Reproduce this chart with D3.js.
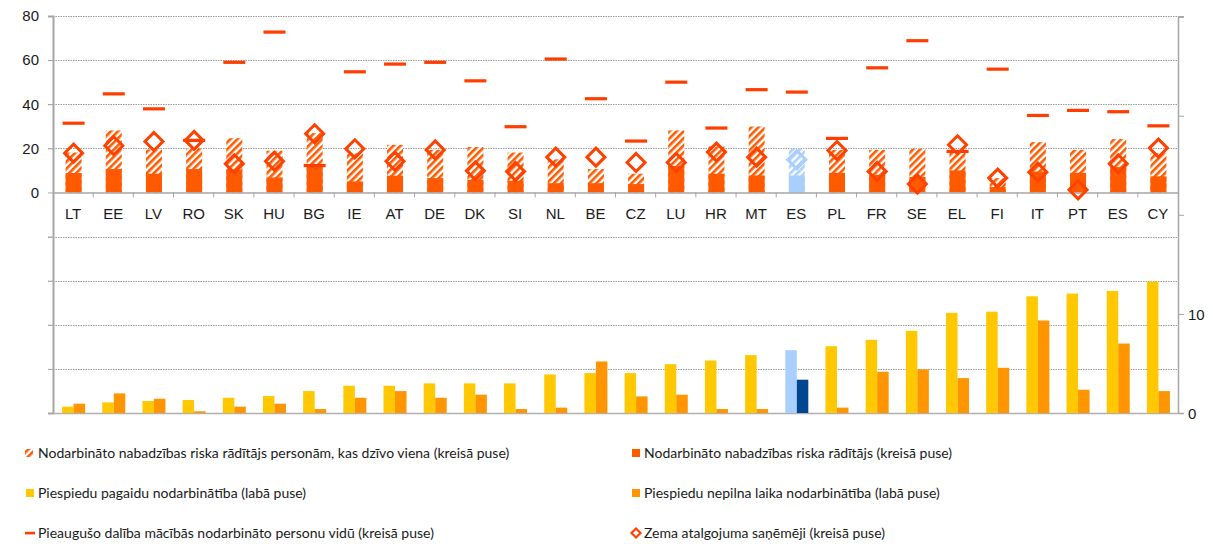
<!DOCTYPE html>
<html>
<head>
<meta charset="utf-8">
<script src="https://cdn.jsdelivr.net/npm/d3@7"></script>
<style>
html,body{margin:0;padding:0;background:#fff;}
svg{display:block;font-family:Lato,"Open Sans",sans-serif;}
</style>
</head>
<body>
<svg id="chart" width="1213" height="544"></svg>
<script>
const countries = ["LT","EE","LV","RO","SK","HU","BG","IE","AT","DE","DK","SI","NL","BE","CZ","LU","HR","MT","ES","PL","FR","SE","EL","FI","IT","PT","ES","CY"];
const highlightIndex = 18;
const inWorkPoverty = [8.8,10.6,8.5,10.6,10.3,6.8,12.5,5.0,7.6,6.5,5.7,5.3,4.2,4.2,3.8,12.0,8.5,7.7,7.7,8.9,8.0,7.0,10.0,2.4,9.5,8.9,11.5,7.3];
const livingAlone = [18.1,28.1,19.5,20.0,24.6,18.9,26.9,17.8,21.6,19.3,20.6,18.1,15.0,10.6,8.5,28.1,20.9,29.9,19.8,19.3,19.3,19.8,18.0,6.5,22.8,19.3,24.2,17.8];
const adultLearning = [31.4,44.7,37.9,23.6,59.0,72.7,12.2,54.7,58.2,59.0,50.6,29.8,60.5,42.5,23.3,50.0,29.2,46.6,45.5,24.5,56.5,68.8,18.6,55.9,34.9,37.2,36.6,30.2];
const lowWage = [17.8,21.2,23.1,23.6,13.0,14.1,26.6,19.8,14.1,19.3,9.8,9.5,16.0,16.0,13.6,13.6,18.3,16.0,14.8,19.0,9.5,3.8,21.6,6.5,9.2,1.2,13.0,20.1];
const involuntaryTemp = [0.64,1.07,1.21,1.31,1.54,1.71,2.21,2.75,2.75,2.99,2.99,2.99,3.89,4.03,4.03,4.93,5.30,5.84,6.34,6.74,7.38,8.29,10.10,10.23,11.78,12.05,12.32,13.26];
const involuntaryPart = [0.94,1.98,1.44,0.17,0.64,0.94,0.40,1.54,2.21,1.54,1.85,0.40,0.54,5.20,1.68,1.85,0.40,0.40,3.36,0.54,4.16,4.40,3.52,4.56,9.33,2.35,7.01,2.21];
const leftTicks = [-100,-80,-60,-40,-20,0,20,40,60,80];
const leftTickLabels = [0,20,40,60,80];
const rightTicks = [0,10,20,30,40];
const rightTickLabels = [0,10];
const legendLabels = [
  "Nodarbināto nabadzības riska rādītājs personām, kas dzīvo viena (kreisā puse)",
  "Nodarbināto nabadzības riska rādītājs (kreisā puse)",
  "Piespiedu pagaidu nodarbinātība (labā puse)",
  "Piespiedu nepilna laika nodarbinātība (labā puse)",
  "Pieaugušo dalība mācībās nodarbināto personu vidū (kreisā puse)",
  "Zema atalgojuma saņēmēji (kreisā puse)"
];

const C = {
  solid: "#FF5A00", line: "#FF3D00", diamond: "#FF4100",
  yellow: "#FFC800", orange: "#FF9500",
  lightBlue: "#A9CFFF", darkBlue: "#00458F",
  grid: "#9a9a9a", axis: "#a6a6a6", text: "#1a1a1a"
};

const svg = d3.select("#chart");
const X0 = 53, X1 = 1178, YTOP = 16, YBOT = 413;
const idx = countries.map((d,i)=>i);
const x = d3.scaleBand().domain(idx).range([X0, X1]).padding(0);
const yL = d3.scaleLinear().domain([-100, 80]).range([YBOT, YTOP]);
const yR = d3.scaleLinear().domain([0, 40]).range([YBOT, YTOP + 0.6]);

const defs = svg.append("defs");
function hatch(id, color){
  const p = defs.append("pattern").attr("id", id).attr("patternUnits","userSpaceOnUse")
    .attr("width", 5).attr("height", 5).attr("patternTransform","rotate(45)");
  p.append("rect").attr("width",5).attr("height",5).attr("fill","#fff");
  p.append("rect").attr("width",2.6).attr("height",5).attr("fill",color);
}
hatch("hatchO", C.solid);
hatch("hatchB", C.lightBlue);

// gridlines
svg.append("g").selectAll("line").data(leftTicks.filter(t=>t!==0)).join("line")
  .attr("x1", X0-5).attr("x2", X1).attr("y1", d=>Math.round(yL(d))+0.5).attr("y2", d=>Math.round(yL(d))+0.5)
  .attr("stroke", C.grid).attr("stroke-width", 1).attr("stroke-dasharray","1.5,1");
// top gridline extends to right tick
svg.append("line").attr("x1", X1).attr("x2", X1+6).attr("y1", Math.round(yL(80))+0.5).attr("y2", Math.round(yL(80))+0.5)
  .attr("stroke", C.axis);

// left axis
const gL = svg.append("g").attr("transform", `translate(${X0},0)`)
  .call(d3.axisLeft(yL).tickValues(leftTicks).tickSize(5).tickFormat(d=>leftTickLabels.includes(d)?d:""));
gL.select(".domain").attr("stroke", C.axis).attr("stroke-width", 2);
gL.selectAll(".tick line").attr("stroke", C.axis);
gL.selectAll("text").attr("font-size", 15).attr("fill", C.text).attr("x", -14);

// right axis
const gR = svg.append("g").attr("transform", `translate(${X1},0)`)
  .call(d3.axisRight(yR).tickValues(rightTicks).tickSize(6).tickFormat(d=>rightTickLabels.includes(d)?d:""));
gR.select(".domain").attr("stroke", C.axis).attr("stroke-width", 1.5);
gR.selectAll(".tick line").attr("stroke", C.axis);
gR.selectAll("text").attr("font-size", 15).attr("fill", C.text).attr("x", 10).attr("dy","0.35em");

// bottom (right axis zero) line
svg.append("line").attr("x1", X0).attr("x2", X1).attr("y1", YBOT+0.5).attr("y2", YBOT+0.5)
  .attr("stroke", "#b0b0b0").attr("stroke-width", 1.5);

// bottom bars
const bw2 = 11.5;
const gB = svg.append("g");
gB.selectAll("rect.t").data(idx).join("rect")
  .attr("x", i=>x(i)+x.bandwidth()/2 - bw2 + 0.5).attr("width", bw2)
  .attr("y", i=>yR(involuntaryTemp[i])).attr("height", i=>yR(0)-yR(involuntaryTemp[i]))
  .attr("fill", i=>i===highlightIndex?C.lightBlue:C.yellow);
gB.selectAll("rect.p").data(idx).join("rect")
  .attr("x", i=>x(i)+x.bandwidth()/2 + 0.5).attr("width", bw2)
  .attr("y", i=>yR(involuntaryPart[i])).attr("height", i=>yR(0)-yR(involuntaryPart[i]))
  .attr("fill", i=>i===highlightIndex?C.darkBlue:C.orange);

// top bars
const bw = 16;
const gT = svg.append("g");
gT.selectAll("rect.h").data(idx).join("rect")
  .attr("x", i=>x(i)+x.bandwidth()/2 - bw/2 + 0.5).attr("width", bw)
  .attr("y", i=>yL(livingAlone[i])).attr("height", i=>yL(0)-yL(livingAlone[i]))
  .attr("fill", i=>i===highlightIndex?"url(#hatchB)":"url(#hatchO)");
gT.selectAll("rect.s").data(idx).join("rect")
  .attr("x", i=>x(i)+x.bandwidth()/2 - bw/2 + 0.5).attr("width", bw)
  .attr("y", i=>yL(inWorkPoverty[i])).attr("height", i=>yL(0)-yL(inWorkPoverty[i]))
  .attr("fill", i=>i===highlightIndex?C.lightBlue:C.solid);

// category axis
const gX = svg.append("g").attr("transform", `translate(0,${yL(0)})`)
  .call(d3.axisBottom(x).tickSize(0).tickFormat(i=>countries[i]));
gX.select(".domain").attr("stroke", C.axis).attr("stroke-width", 1.5);
gX.selectAll("text").attr("font-size", 15).attr("fill", C.text).attr("dy", "0").attr("y", 27);
svg.append("g").selectAll("line").data(idx.slice(1)).join("line")
  .attr("x1", i=>x(i)).attr("x2", i=>x(i)).attr("y1", yL(0)).attr("y2", yL(0)+5)
  .attr("stroke", C.axis);

// lines (adult learning)
svg.append("g").selectAll("rect").data(idx).join("rect")
  .attr("x", i=>x(i)+x.bandwidth()/2 - 11 + 0.5).attr("width", 22)
  .attr("y", i=>yL(adultLearning[i]) - 1.6).attr("height", 3.2)
  .attr("fill", C.line);

// diamonds (low wage)
const ds = 9;
svg.append("g").selectAll("path").data(idx).join("path")
  .attr("transform", i=>`translate(${x(i)+x.bandwidth()/2+0.5},${yL(lowWage[i])})`)
  .attr("d", `M0,${-ds}L${ds},0L0,${ds}L${-ds},0Z`)
  .attr("fill", "none")
  .attr("stroke", i=>i===highlightIndex?C.lightBlue:C.diamond).attr("stroke-width", 3);

// legend
const lg = svg.append("g").attr("font-size", 14).attr("fill", C.text);
const cols = [30, 636];
const rows = [453, 493, 533];
legendLabels.forEach((lab, k)=>{
  const cx = cols[k%2], cy = rows[Math.floor(k/2)];
  const g = lg.append("g").attr("transform", `translate(${cx},${cy})`);
  if(k===0){
    g.append("rect").attr("x",-5).attr("y",-4).attr("width",8).attr("height",8).attr("fill","url(#hatchO)");
  } else if(k===1){
    g.append("rect").attr("x",-4).attr("y",-4).attr("width",8).attr("height",8).attr("fill",C.solid);
  } else if(k===2){
    g.append("rect").attr("x",-4).attr("y",-4).attr("width",8).attr("height",8).attr("fill",C.yellow);
  } else if(k===3){
    g.append("rect").attr("x",-4).attr("y",-4).attr("width",8).attr("height",8).attr("fill",C.orange);
  } else if(k===4){
    g.append("rect").attr("x",-5).attr("y",-1.2).attr("width",10).attr("height",2.6).attr("fill",C.line);
  } else {
    g.append("path").attr("d","M0,-4.5L4.5,0L0,4.5L-4.5,0Z").attr("fill","#fff").attr("stroke",C.diamond).attr("stroke-width",2.2);
  }
  g.append("text").attr("x", 8).attr("dy","0.35em").text(lab);
});
</script>
</body>
</html>
